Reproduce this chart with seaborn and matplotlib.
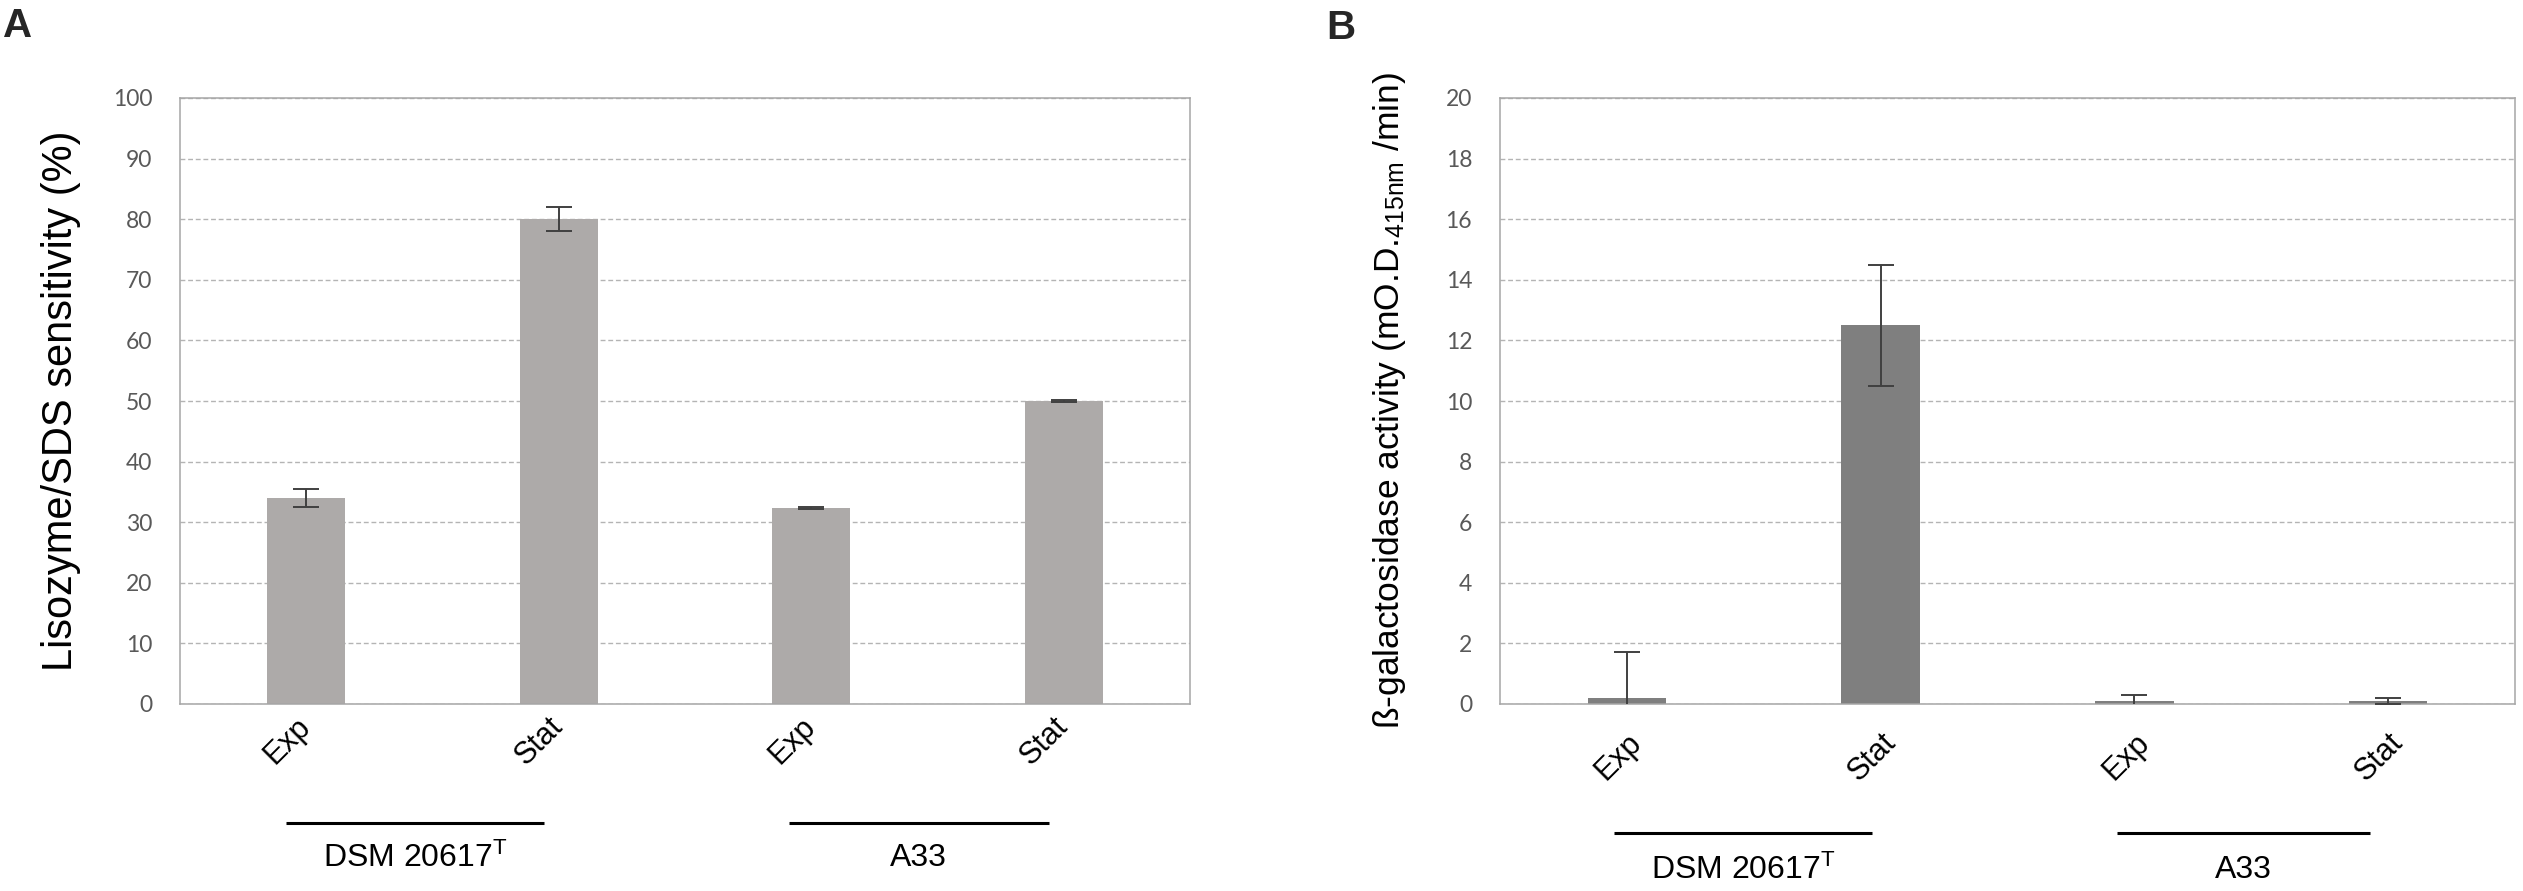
import matplotlib
matplotlib.use("Agg")
import matplotlib.pyplot as plt
import seaborn as sns
import pandas as pd

# bar groups (left to right)
conditions = ["Exp", "Stat", "Exp", "Stat"]
strains = ["DSM 20617T", "DSM 20617T", "A33", "A33"]
strain_labels = ["DSM 20617$^{T}$", "A33"]

# panel A: lysozyme/SDS sensitivity (%)
lyso_values = [34.0, 80.0, 32.3, 50.0]
lyso_err = [1.5, 2.0, 0.2, 0.1]

# panel B: beta-galactosidase activity
gal_values = [0.2, 12.5, 0.1, 0.1]
gal_err = [1.5, 2.0, 0.2, 0.1]

df = pd.DataFrame({
    "key": [s + " " + c for s, c in zip(strains, conditions)],
    "condition": conditions,
    "strain": strains,
    "lyso": lyso_values,
    "gal": gal_values,
})

sns.set_theme(style="white")
plt.rcParams["font.family"] = ["Liberation Sans", "DejaVu Sans"]
plt.rcParams["mathtext.default"] = "regular"

W, H = 2523, 891
fig = plt.figure(figsize=(W / 100, H / 100), dpi=100)
axA = fig.add_axes([180 / W, 1 - 704 / H, 1010 / W, 606 / H])
axB = fig.add_axes([1500 / W, 1 - 704 / H, 1015 / W, 606 / H])


def draw_panel(ax, col, err, color, ymax, step, ylabel, ylabel_size,
               label_x, tick_pad, tick_va, line_y, text_y, spans):
    sns.barplot(data=df, x="key", y=col, color=color, width=0.31,
                saturation=1, errorbar=None, linewidth=0, ax=ax, zorder=2)
    ax.errorbar(range(len(df)), df[col], yerr=err, fmt="none",
                ecolor="#404040", elinewidth=1.4, capsize=9.5,
                capthick=1.4, zorder=3, clip_on=True)
    ax.set_xlim(-0.5, len(df) - 0.5)
    ax.set_ylim(0, ymax)
    ticks = list(range(0, ymax + 1, step))
    ax.set_yticks(ticks)
    ax.set_yticklabels([str(t) for t in ticks], fontfamily="Lato",
                       fontsize=16.5, color="#595959")
    ax.set_xticks(range(len(df)))
    ax.set_xticklabels(df["condition"], rotation=45, ha="right", va=tick_va,
                       rotation_mode="anchor", fontsize=22, color="black")
    ax.tick_params(axis="y", length=0, pad=20)
    ax.tick_params(axis="x", length=0, pad=tick_pad)
    ax.set_xlabel("")
    ax.set_ylabel(ylabel, fontsize=ylabel_size, color="black")
    ax.yaxis.set_label_coords(label_x, 0.5)
    ax.yaxis.grid(True, linestyle=(0, (3.5, 2)), color="#B4B4B4",
                  linewidth=1.0)
    ax.xaxis.grid(False)
    ax.set_axisbelow(True)
    for sp in ax.spines.values():
        sp.set_visible(True)
        sp.set_color("#A6A6A6")
        sp.set_linewidth(1.1)
    tr = ax.get_xaxis_transform()
    for (x0, x1), name in zip(spans, strain_labels):
        ax.plot([x0, x1], [line_y, line_y], color="black", linewidth=2.2,
                transform=tr, clip_on=False, solid_capstyle="butt")
        ax.text((x0 + x1) / 2, text_y, name, transform=tr, ha="center",
                va="center", fontsize=23, color="black")


draw_panel(axA, "lyso", lyso_err, "#ADAAA9", 100, 10,
           "Lisozyme/SDS sensitivity (%)", 30, -0.098, 13, "center",
           -0.196, -0.254, [(-0.08, 0.94), (1.91, 2.94)])
draw_panel(axB, "gal", gal_err, "#7F7F7F", 20, 2,
           "ß-galactosidase activity (mO.D.$_{415nm}$ /min)", 25.5, -0.091,
           17, "top", -0.213, -0.274, [(-0.05, 0.966), (1.93, 2.93)])

panel_font = ["Liberation Sans Narrow", "Liberation Sans", "DejaVu Sans"]
fig.text(3 / W, 1 - 7 / H, "A", fontsize=29, fontweight="bold",
         family=panel_font, ha="left", va="top")
fig.text(1326 / W, 1 - 9 / H, "B", fontsize=29, fontweight="bold",
         family=panel_font, ha="left", va="top")

fig.savefig("out.png", dpi=100)
